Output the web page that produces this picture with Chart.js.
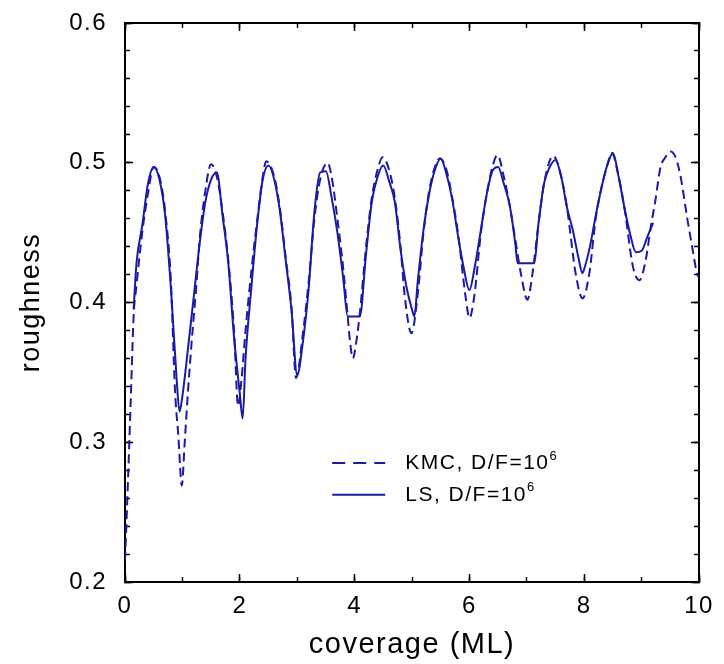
<!DOCTYPE html>
<html>
<head>
<meta charset="utf-8">
<script src="https://cdn.jsdelivr.net/npm/chart.js@4/dist/chart.umd.min.js"></script>
<style>
  html, body { margin: 0; padding: 0; background: #fff; }
  #wrap { width: 724px; height: 664px; }
</style>
</head>
<body>
<div id="wrap"><canvas id="chart" width="724" height="664"></canvas></div>
<script>
// Kinetic Monte Carlo roughness vs coverage (dashed)
const kmcCoverage = [0, 0.05, 0.1, 0.15, 0.2, 0.3, 0.4, 0.5, 0.6, 0.7, 0.8, 0.87, 0.93, 0.99, 1.04, 1.1, 1.16, 1.25, 1.3, 1.4,
  1.5, 1.6, 1.7, 1.8, 1.9, 1.97, 2.03, 2.1, 2.2, 2.3, 2.4, 2.46, 2.6, 2.7, 2.8, 2.9, 2.98, 3.1, 3.2, 3.3,
  3.4, 3.53, 3.6, 3.7, 3.8, 3.88, 3.92, 3.97, 4.03, 4.09, 4.2, 4.3, 4.4, 4.49, 4.6, 4.7, 4.8, 4.87, 4.99, 5.1,
  5.2, 5.3, 5.4, 5.48, 5.6, 5.7, 5.8, 5.94, 6.0, 6.09, 6.2, 6.3, 6.4, 6.49, 6.6, 6.7, 6.8, 6.9, 7.01, 7.1,
  7.2, 7.3, 7.46, 7.6, 7.7, 7.85, 7.97, 8.09, 8.2, 8.3, 8.4, 8.48, 8.6, 8.7, 8.85, 8.96, 9.07, 9.16, 9.24, 9.33,
  9.4, 9.51, 9.6, 9.68, 9.8, 9.88, 9.97, 10];
const kmcRoughness = [0.215, 0.27, 0.33, 0.39, 0.412, 0.45, 0.478, 0.497, 0.49, 0.465, 0.415, 0.338, 0.304, 0.269, 0.30, 0.338, 0.371, 0.416, 0.445, 0.48,
  0.499, 0.49, 0.465, 0.43, 0.38, 0.326, 0.345, 0.38, 0.422, 0.458, 0.49, 0.501, 0.49, 0.467, 0.432, 0.397, 0.346, 0.378, 0.415, 0.46,
  0.488, 0.50, 0.49, 0.46, 0.425, 0.39, 0.372, 0.36, 0.372, 0.392, 0.44, 0.475, 0.495, 0.504, 0.495, 0.475, 0.44, 0.406, 0.378, 0.406,
  0.45, 0.48, 0.497, 0.503, 0.495, 0.475, 0.45, 0.402, 0.389, 0.406, 0.45, 0.477, 0.497, 0.5055, 0.49, 0.47, 0.445, 0.42, 0.402, 0.421,
  0.455, 0.485, 0.505, 0.49, 0.468, 0.421, 0.403, 0.421, 0.46, 0.482, 0.498, 0.507, 0.49, 0.468, 0.4255, 0.416, 0.43, 0.454, 0.473, 0.497,
  0.503, 0.508, 0.503, 0.49, 0.459, 0.44, 0.42, 0.418];

// Level-set roughness vs coverage (solid)
const lsCoverage = [0.15, 0.2, 0.3, 0.4, 0.5, 0.6, 0.7, 0.8, 0.9, 0.95, 1.0, 1.1, 1.2, 1.3, 1.4, 1.5, 1.6, 1.7, 1.8, 1.9,
  2.0, 2.05, 2.1, 2.2, 2.3, 2.4, 2.5, 2.6, 2.7, 2.8, 2.9, 3.0, 3.1, 3.2, 3.3, 3.4, 3.5, 3.6, 3.7, 3.8,
  3.88, 4.09, 4.2, 4.3, 4.4, 4.5, 4.6, 4.7, 4.8, 4.9, 5.0, 5.04, 5.1, 5.2, 5.3, 5.4, 5.5, 5.6, 5.7, 5.8,
  5.9, 6.0, 6.1, 6.2, 6.3, 6.4, 6.5, 6.6, 6.7, 6.8, 6.84, 7.13, 7.2, 7.3, 7.4, 7.5, 7.6, 7.7, 7.8, 7.9,
  7.97, 8.0, 8.1, 8.2, 8.3, 8.4, 8.5, 8.6, 8.7, 8.8, 8.9, 9.0, 9.1, 9.2];
const lsRoughness = [0.395, 0.428, 0.455, 0.485, 0.497, 0.488, 0.462, 0.41, 0.345, 0.322, 0.333, 0.368, 0.405, 0.442, 0.472, 0.488, 0.493, 0.462, 0.428, 0.375,
  0.335, 0.317, 0.36, 0.41, 0.455, 0.488, 0.498, 0.488, 0.465, 0.43, 0.395, 0.348, 0.372, 0.41, 0.465, 0.493, 0.494, 0.475, 0.45, 0.418,
  0.39, 0.39, 0.435, 0.472, 0.49, 0.498, 0.487, 0.472, 0.438, 0.412, 0.395, 0.39, 0.415, 0.452, 0.478, 0.495, 0.503, 0.492, 0.474, 0.448,
  0.425, 0.409, 0.427, 0.452, 0.477, 0.494, 0.497, 0.485, 0.47, 0.442, 0.428, 0.428, 0.455, 0.485, 0.497, 0.502, 0.49, 0.468, 0.452, 0.432,
  0.421, 0.424, 0.44, 0.462, 0.482, 0.498, 0.507, 0.49, 0.468, 0.449, 0.436, 0.437, 0.447, 0.457];

// Axis ranges and tick steps
const xRange = [0, 10];
const yRange = [0.2, 0.6];
const xMajorStep = 2, xMinorStep = 1;
const yMajorStep = 0.1, yMinorStep = 0.02;

const seriesNames = ['KMC, D/F=10', 'LS, D/F=10'];
const seriesExponent = '6';
const axisTitles = { x: 'coverage (ML)', y: 'roughness' };

const LINE = '#1a1aa6';
const INK = '#000';
const FONT = '"Liberation Sans", Arial, Helvetica, sans-serif';
const SPACING = '1.5px';

const toPoints = (xs, ys) => xs.map((x, i) => ({ x, y: ys[i] }));

// Keep label overflow from pushing the plot area around; the boxes are sized by hand
function pinBox(s, size) {
  if (s.isHorizontal()) s.height = size; else s.width = size;
  s.paddingTop = 0; s.paddingBottom = 0; s.paddingLeft = 0; s.paddingRight = 0;
}

// Tick-only axis used for the minor marks and for the mirrored top/right sides
function markAxis(position, range, step, len, withBorder) {
  return {
    type: 'linear', position, min: range[0], max: range[1], weight: 0,
    ticks: { stepSize: step, display: false },
    grid: { drawOnChartArea: false, drawTicks: true, tickLength: -len, tickColor: INK, tickWidth: 1.5 },
    border: { display: withBorder, color: INK, width: 2 },
    afterFit(s) { pinBox(s, 0); }
  };
}

// Slightly wider text tracking for all labels
const tracking = {
  id: 'tracking',
  beforeUpdate(chart) { chart.ctx.letterSpacing = SPACING; },
  beforeDraw(chart) { chart.ctx.letterSpacing = SPACING; }
};

// Key drawn inside the plot area, below the curves
const seriesKey = {
  id: 'seriesKey',
  afterDatasetsDraw(chart) {
    const { ctx, chartArea: a } = chart;
    const w = a.right - a.left, h = a.bottom - a.top;
    const x0 = a.left + w * 0.361;
    chart.data.datasets.forEach((ds, i) => {
      const y = a.top + h * (0.787 + i * 0.057);
      ctx.save();
      ctx.strokeStyle = ds.borderColor;
      ctx.lineWidth = ds.borderWidth;
      ctx.setLineDash(ds.borderDash && ds.borderDash.length ? [13, 8] : []);
      ctx.beginPath();
      ctx.moveTo(x0, y);
      ctx.lineTo(x0 + 53, y);
      ctx.stroke();
      ctx.setLineDash([]);
      ctx.fillStyle = INK;
      ctx.textBaseline = 'middle';
      ctx.font = '21px ' + FONT;
      ctx.fillText(seriesNames[i], x0 + 73, y);
      const tw = ctx.measureText(seriesNames[i]).width;
      ctx.font = '13px ' + FONT;
      ctx.fillText(seriesExponent, x0 + 73 + tw, y - 7);
      ctx.restore();
    });
  }
};

new Chart(document.getElementById('chart'), {
  type: 'line',
  data: {
    datasets: [
      {
        label: seriesNames[0] + seriesExponent,
        data: toPoints(kmcCoverage, kmcRoughness),
        borderColor: LINE, borderWidth: 2, borderDash: [9, 5],
        pointRadius: 0, fill: false, cubicInterpolationMode: 'monotone',
        xAxisID: 'x', yAxisID: 'y'
      },
      {
        label: seriesNames[1] + seriesExponent,
        data: toPoints(lsCoverage, lsRoughness),
        borderColor: LINE, borderWidth: 2, borderDash: [],
        pointRadius: 0, fill: false, cubicInterpolationMode: 'monotone',
        xAxisID: 'x', yAxisID: 'y'
      }
    ]
  },
  options: {
    responsive: false,
    animation: false,
    devicePixelRatio: 1,
    layout: { padding: { left: 0, top: 23, right: 25, bottom: 0 } },
    plugins: { legend: { display: false }, tooltip: { enabled: false } },
    scales: {
      x: {
        type: 'linear', position: 'bottom', min: xRange[0], max: xRange[1], weight: 1,
        ticks: { stepSize: xMajorStep, padding: 18, color: INK, font: { family: FONT, size: 24 }, maxRotation: 0, autoSkip: false },
        grid: { drawOnChartArea: false, tickLength: -8, tickColor: INK, tickWidth: 1.5 },
        border: { display: true, color: INK, width: 2 },
        title: { display: true, text: axisTitles.x, color: INK, font: { family: FONT, size: 29 }, padding: { top: 0, bottom: 2 } },
        afterFit(s) { pinBox(s, 82); }
      },
      xMinor: markAxis('bottom', xRange, xMinorStep, 5, false),
      xTop: markAxis('top', xRange, xMajorStep, 8, true),
      xTopMinor: markAxis('top', xRange, xMinorStep, 5, false),
      y: {
        type: 'linear', position: 'left', min: yRange[0], max: yRange[1], weight: 1,
        ticks: { stepSize: yMajorStep, padding: 26, color: INK, font: { family: FONT, size: 24 },
                 callback: v => Number(v).toFixed(1) },
        grid: { drawOnChartArea: false, tickLength: -8, tickColor: INK, tickWidth: 1.5 },
        border: { display: true, color: INK, width: 2 },
        title: { display: true, text: axisTitles.y, color: INK, font: { family: FONT, size: 27 }, padding: { top: 15, bottom: 0 } },
        afterFit(s) { pinBox(s, 125); }
      },
      yMinor: markAxis('left', yRange, yMinorStep, 5, false),
      yRight: markAxis('right', yRange, yMajorStep, 8, true),
      yRightMinor: markAxis('right', yRange, yMinorStep, 5, false)
    }
  },
  plugins: [tracking, seriesKey]
});
</script>
</body>
</html>
